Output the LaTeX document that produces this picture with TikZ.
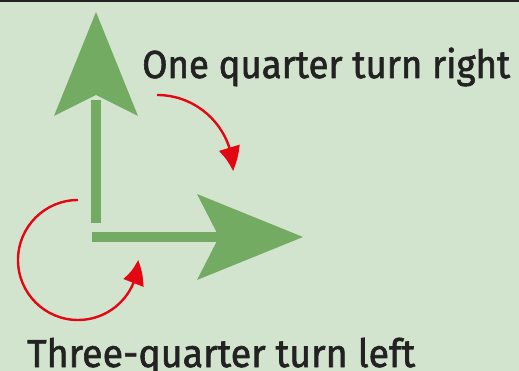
\documentclass[tikz,border=0pt]{standalone}
\usepackage{graphicx}
\usepackage{fontspec}
\setmainfont{Fira Sans}[AutoFakeBold=1.6]
\usetikzlibrary{arrows.meta,bending}
\definecolor{bg}{HTML}{D3E4CE}
\definecolor{grn}{HTML}{74AB63}
\definecolor{redc}{HTML}{E30613}
\definecolor{ink}{HTML}{222222}
\tikzset{
  garrow/.style={fill=grn, draw=none},
  turn/.style={draw=redc, line width=2.4pt, -{Triangle[length=24pt,width=21pt,bend]}},
  lbl/.style={inner sep=0pt, anchor=base west, text=ink, font=\fontsize{39}{39}\selectfont\bfseries}
}
\begin{document}
\begin{tikzpicture}[x=1pt,y=-1pt]
\useasboundingbox (0,0) rectangle (519,371);
\fill[bg] (0,0) rectangle (519,371);
\fill[ink] (0,0) rectangle (519,2.5);
% up arrow
\fill[garrow] (91,223) rectangle (101,100);
\fill[garrow] (96,12) -- (138,116) -- (96,95) -- (54,116) -- cycle;
% right arrow
\fill[garrow] (92,232) rectangle (222,242);
\fill[garrow] (303,237) -- (197,194) -- (219,237) -- (197,280) -- cycle;
% red turns
\coordinate (c1) at (78,260);
\coordinate (c2) at (157,171);
\draw[turn] (78,200) arc[start angle=-90, end angle=-360, radius=60];
\draw[turn] (157,95) arc[start angle=-90, end angle=0, radius=76];
% labels
\node[lbl] (t1) at (142,78) {\resizebox{368pt}{\height}{One quarter turn right}};
\node[lbl] (t2) at (27,367) {\resizebox{388pt}{\height}{Three-quarter turn left}};
\end{tikzpicture}
\end{document}
